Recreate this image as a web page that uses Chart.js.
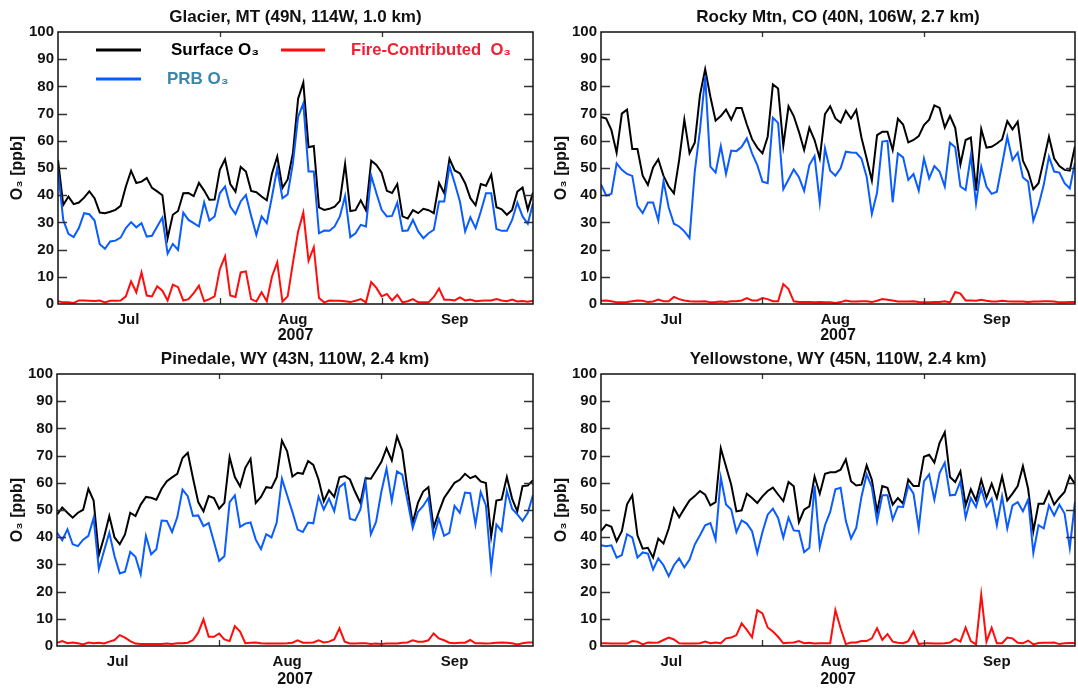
<!DOCTYPE html>
<html lang="en">
<head>
<meta charset="UTF-8">
<title>Surface, PRB and fire-contributed O3 - summer 2007</title>
<script src="https://cdn.jsdelivr.net/npm/chart.js"></script>
<style>
  body { margin: 0; background: #fff; }
  #wrap { position: relative; width: 1078px; height: 688px; }
  #wrap canvas { position: absolute; }
</style>
</head>
<body>
<div id="wrap">
  <canvas id="glacier" width="539" height="344" style="left:0;top:0"></canvas>
  <canvas id="rocky" width="539" height="344" style="left:539px;top:0"></canvas>
  <canvas id="pinedale" width="539" height="344" style="left:0;top:344px"></canvas>
  <canvas id="yellowstone" width="539" height="344" style="left:539px;top:344px"></canvas>
</div>

<script>
// daily values, 15 Jun - 14 Sep 2007 (day 0 = 15 Jun)
const dayIndex = Array.from({ length: 92 }, (_, i) => i);
const monthNames = ['Jul', 'Aug', 'Sep'];
const monthLabelDays = [13.5, 45, 76];
const pinedaleLabelDays = [11.6, 44, 76];
const midMonthDays = [31, 62];
const yearLabel = '2007';
const seriesNames = ['Surface O₃', 'PRB O₃', 'Fire-Contributed  O₃'];

// Glacier, MT
const glacierSurface = [53, 36.4, 39.5, 36.7, 37.3, 39.1, 41.4, 38.9, 33.6, 33.4,
  33.9, 34.6, 36.1, 43.2, 49, 44.5, 45, 46.3, 42.7, 41.4,
  40, 24.2, 32.8, 34.2, 40.7, 40.8, 39.7, 44.5, 41.7, 38.3,
  38.4, 49.3, 53.2, 44.1, 41.3, 50.4, 48.7, 41.6, 41.1, 39.5,
  38.1, 48, 54.2, 42.7, 45.8, 55.4, 75.5, 81.4, 57.6, 58.1,
  35.5, 34.6, 35, 35.8, 37.9, 51.5, 34.2, 34.5, 38.1, 34.4,
  52.7, 51.1, 48.3, 41.6, 40.8, 44.1, 32.2, 31.4, 34.5, 33.4,
  35, 34.5, 33.4, 44.5, 40.7, 53.4, 49.1, 48, 44.4, 38.9,
  36.3, 44.1, 43.5, 47.6, 35.6, 34.8, 32.8, 34.6, 41.3, 42.8,
  34.7, 41];
const glacierPRB = [49.3, 30.9, 25.8, 24.6, 27.9, 33.4, 33, 30.7, 22, 20.3,
  23, 23.3, 24.4, 27.9, 30.1, 28.2, 29.7, 24.8, 25.1, 28.5,
  31.8, 18.5, 22.1, 19.9, 33.6, 30.9, 29.7, 28.5, 37.4, 30.7,
  32.2, 40.7, 43.2, 35.8, 33.1, 37.7, 40.1, 32.4, 25.4, 32.2,
  29.7, 39.5, 49.9, 38.9, 40.3, 51.7, 68.8, 73.7, 48.7, 48.7,
  26, 27, 26.9, 28.5, 32.2, 39.7, 24.6, 26, 29.1, 28.5,
  47.2, 40.7, 34.6, 32.2, 32.4, 37.3, 26.9, 27, 30.9, 26.7,
  24.2, 26, 27.3, 37.7, 37.7, 50.7, 44.4, 37.7, 26.7, 31.9,
  27.9, 34, 40.7, 40.7, 27.6, 26.9, 26.9, 30.9, 37.3, 32.2,
  29.5, 37];
const glacierFire = [1, 0.6, 0.6, 0.4, 1.3, 1.3, 1.2, 1.1, 1.3, 0.6,
  1.2, 1.2, 1.3, 2.8, 8.3, 4.3, 11.6, 3.1, 2.8, 6.5,
  4.9, 1.3, 7.1, 6.2, 1.3, 1.8, 4, 6.7, 1, 1.8,
  2.8, 12.8, 17.5, 3.1, 2.6, 11.6, 12, 1.8, 0.9, 4.3,
  1, 10.1, 15.3, 0.9, 2.8, 15, 26.7, 33.6, 15.9, 20.9,
  2.2, 0.6, 1.3, 1.2, 1.2, 1, 0.7, 1.2, 1.8, 0.6,
  8.1, 5.9, 2.8, 3.7, 1.3, 3.4, 0.6, 1, 1.8, 0.6,
  0.6, 0.6, 2.6, 5.7, 1.6, 1.6, 1.3, 2.4, 1.3, 1.6,
  1, 1.2, 1.3, 1.3, 1.8, 1.3, 1, 1.6, 0.9, 1.1,
  0.8, 1.2];

// Rocky Mtn, CO
const rockySurface = [68.8, 68.2, 63.9, 55.6, 70, 71.5, 57, 57, 47.2, 43.8,
  50.2, 53.2, 47.1, 43.2, 40.7, 52.9, 67.8, 55.4, 59.3, 76.8,
  86.3, 76.2, 67.4, 69.1, 71.5, 67.8, 72.1, 72.1, 66, 60.6,
  57.5, 55.4, 61.5, 80.7, 79.2, 58.2, 72.7, 69.1, 63.3, 56.6,
  64.8, 60.3, 53.5, 69.8, 72.7, 68.2, 66.7, 71, 68.2, 71.3,
  61.2, 53.5, 45.4, 62.1, 63.3, 63.3, 56.6, 68.1, 66, 59.4,
  60.3, 61.7, 65.8, 67.8, 73, 72.1, 64.9, 69.1, 64.8, 51.3,
  60.3, 61.2, 41.7, 64.3, 57.5, 57.8, 59, 60.5, 67.2, 64.2,
  67, 52.7, 48.7, 42.2, 44.4, 52.9, 61.5, 53.5, 50.7, 49.3,
  49, 58];
const rockyPRB = [44, 39.9, 40.5, 51.7, 49.3, 47.8, 47.1, 36.1, 33.4, 37.3,
  37.3, 30.7, 45.2, 35.5, 29.5, 28.5, 26.7, 24.2, 48.7, 63.9,
  83.7, 50.5, 48.3, 58.1, 47.8, 56.4, 56.2, 57.8, 60.9, 55.4,
  51.1, 45, 44.4, 68.5, 66.6, 42.2, 45.8, 49.5, 46.6, 41.6,
  51.1, 54.4, 37.4, 57.2, 49, 47.2, 49.9, 56, 55.7, 55.6,
  53.5, 46.8, 33.1, 41, 59.7, 60, 37.4, 55.4, 53.9, 45.6,
  47.8, 41.7, 53.5, 46.2, 50.7, 48.7, 43.2, 59.3, 57.6, 43.2,
  41.9, 54.5, 37, 50.5, 43.2, 40.5, 41.3, 51.3, 61.5, 52.9,
  55.6, 46.5, 45, 30.6, 36.2, 43.8, 54.2, 48.7, 48.3, 44.4,
  42.5, 52];
const rockyFire = [1.2, 1.3, 1, 0.6, 0.6, 0.7, 1, 1.3, 1.2, 0.7,
  0.9, 1.6, 1, 1, 2.6, 1.8, 1.3, 1, 0.9, 0.9,
  1, 0.6, 0.7, 0.9, 0.7, 1, 1, 1.3, 2.2, 1.3,
  1.3, 2.2, 1.8, 1, 1, 7.3, 5.5, 1, 0.7, 0.7,
  0.7, 0.6, 0.7, 0.6, 0.6, 0.4, 0.7, 1.3, 0.9, 0.9,
  1, 1, 0.7, 1.2, 1.8, 1.6, 1.3, 0.9, 0.9, 0.9,
  1, 0.7, 0.6, 0.6, 0.7, 0.7, 1, 0.6, 4.4, 3.8,
  1.3, 1.3, 1.2, 1.6, 1.2, 0.9, 0.9, 1.2, 1, 0.9,
  0.9, 0.9, 0.7, 0.9, 0.9, 1, 1, 0.9, 0.6, 0.6,
  0.7, 0.7];

// Pinedale, WY
const pinedaleSurface = [48.3, 50.9, 49, 47.2, 49, 50.1, 57.8, 53.5, 33.4, 40.1,
  47.8, 39.9, 37.4, 41, 49, 47.8, 52, 54.8, 54.5, 53.8,
  57.8, 60.6, 62, 63.3, 69.1, 71, 61.7, 52.9, 49.5, 55.1,
  54.4, 50.5, 52.6, 69.4, 62.1, 58.7, 65.5, 68.8, 52.6, 54.8,
  58.4, 58.1, 62.1, 75.5, 71.6, 62.3, 63.7, 63.3, 68, 66.6,
  61.2, 53.2, 57.2, 54.8, 62, 62.5, 61.2, 56.6, 52.6, 61.7,
  61.5, 64.5, 67.6, 72.7, 68.2, 77, 71.9, 57.8, 45.2, 52.6,
  56.8, 58.4, 43.5, 49.3, 54.4, 57.2, 60, 61.1, 63.3, 61.7,
  62.5, 60.5, 59.9, 40.3, 53.5, 53.9, 62.1, 54.2, 49.5, 58.8,
  59, 61];
const pinedalePRB = [41.7, 38.9, 42.9, 37.4, 36.7, 39.1, 40.5, 47.1, 28.2, 35,
  41.6, 33, 26.7, 27.3, 34.6, 32.8, 26.4, 40.5, 33.7, 35.6,
  46.1, 46, 41.9, 47.4, 57.5, 55.1, 47.8, 48, 44.1, 45.2,
  38.3, 31.3, 33, 52.9, 55.4, 43.8, 45, 45.4, 39.1, 35.6,
  41.1, 39.9, 45.4, 61.5, 55.4, 49.3, 42.8, 41.9, 45.4, 45.1,
  54.9, 50.2, 54.2, 49.6, 58.4, 59.9, 46.8, 46.2, 50.2, 60.3,
  41.1, 45.6, 56.6, 65.2, 53.3, 64.2, 63, 53.5, 43.4, 49.3,
  51.5, 54.5, 40.1, 46.8, 40.5, 41.6, 51.5, 49, 56.4, 56.2,
  44.7, 56.6, 51.7, 28.5, 44.7, 42.3, 57, 50.5, 48.4, 46,
  49, 55.5];
const pinedaleFire = [1.2, 1.8, 1, 1.3, 1, 0.6, 1.3, 1, 1.2, 0.9,
  1.6, 2.2, 4, 3.1, 1.8, 0.9, 0.7, 0.7, 0.7, 0.7,
  0.7, 0.9, 0.7, 1, 1, 1.2, 2.2, 4.9, 9.8, 3.4,
  3.4, 4.6, 2.4, 1.8, 7.3, 5.3, 1, 1.2, 1.3, 1,
  0.9, 0.9, 0.9, 0.9, 1, 1.2, 2.1, 1.2, 1.2, 1.3,
  2.1, 1.3, 1.6, 2.4, 6.5, 1.6, 0.9, 0.9, 1, 1,
  0.7, 0.9, 0.7, 0.9, 0.9, 0.9, 1.2, 1.3, 2.1, 1.6,
  1.6, 2.1, 4.6, 2.8, 2.1, 1.2, 1, 1.2, 1.2, 2.2,
  1, 1, 0.9, 1, 1.2, 1.3, 1.2, 1, 0.6, 1,
  1.3, 1.3];

// Yellowstone, WY
const yellowSurface = [42.2, 44.6, 43.8, 38.5, 42.2, 52.1, 55.4, 40.7, 35.8, 36.1,
  32.5, 39.5, 37.7, 43.2, 50.7, 47.3, 50.5, 53.5, 55.1, 57,
  55.6, 51.7, 52.9, 72.7, 66, 59.3, 49.5, 49.9, 56, 54.4,
  52.6, 55, 57, 58.2, 55.7, 53.3, 60.3, 58.7, 45.5, 50.1,
  51.3, 62.3, 56, 63.3, 63.9, 63.9, 64.8, 68.6, 60.6, 59,
  59.3, 66.4, 61.1, 49.3, 58.8, 58.2, 52, 54.4, 52.3, 61.2,
  58.8, 58.8, 69.6, 70.3, 67.4, 74.7, 78.6, 62.1, 60.3, 64.2,
  51.7, 57.6, 53.5, 61.1, 54.5, 59.7, 54.4, 62.3, 53.5, 56,
  58.8, 66.1, 57.8, 42.2, 52.3, 52.3, 56.8, 52, 54.5, 56.6,
  62.5, 59.5];
const yellowPRB = [37, 36.7, 37, 32.5, 33.4, 41.1, 39.9, 32.5, 34.4, 34,
  28.1, 32.2, 29.7, 25.7, 29.7, 32.2, 28.9, 31.8, 37.3, 40.7,
  44.4, 45.2, 39.1, 61.9, 52, 50.2, 41.9, 46.2, 45, 42.2,
  34.2, 41.9, 48.3, 50.5, 47.1, 39.9, 47.2, 42.5, 42.3, 34.5,
  36.1, 59, 36.4, 44.4, 49.3, 57.6, 58.2, 46, 39.5, 43.4,
  54.8, 63.1, 58.4, 45.8, 55.4, 55.4, 46.5, 51.3, 51.1, 59,
  56, 43.2, 60.5, 63.1, 53.8, 63.6, 67.4, 55.4, 55.6, 60.5,
  47.2, 54.4, 51.1, 57.8, 51.3, 54.2, 44.4, 55, 43.2, 51.7,
  52.9, 49.5, 53.9, 34.2, 44.4, 43.2, 51.7, 48, 52, 48.7,
  36, 53];
const yellowFire = [1, 1, 0.9, 0.9, 0.9, 0.9, 1.8, 1.6, 0.6, 1.3,
  1.2, 1.3, 2.2, 3.1, 2.4, 1, 0.9, 0.9, 0.9, 1,
  1.6, 1, 1.3, 1, 2.8, 3.1, 4, 8.3, 5.9, 3.2,
  13.2, 12, 6.8, 5.3, 3.4, 1, 1.2, 1.3, 1.8, 1,
  1.2, 0.9, 1, 1, 1, 13.2, 6.5, 0.7, 1.3, 1.3,
  1.8, 1.8, 2.8, 6.5, 2.2, 4.4, 1.6, 1.2, 1, 1.8,
  5.3, 0.7, 1, 1, 0.9, 0.9, 1, 1.3, 2.6, 1.6,
  6.8, 1.8, 0.6, 18.9, 1.6, 6.7, 1, 1, 3.1, 2.8,
  1.2, 1, 2, 0.6, 1.1, 1.2, 1.2, 1.3, 0.7, 1,
  1.1, 1.1];

const FONT = "'Liberation Sans', Arial, Helvetica, sans-serif";
const lineColors = ['#000000', '#0a5cff', '#ff0d0d'];

// box round the plot, with inward ticks on all four sides
const frame = {
  id: 'frame',
  afterDatasetsDraw(chart) {
    const { ctx, chartArea: a, scales: { x, y } } = chart;
    ctx.save();
    ctx.strokeStyle = '#333';
    ctx.lineWidth = 1.3;
    ctx.beginPath();
    y.ticks.forEach(t => {
      if (t.value <= y.min || t.value >= y.max) return;
      const py = Math.round(y.getPixelForValue(t.value)) + 0.5;
      ctx.moveTo(a.left, py); ctx.lineTo(a.left + 9, py);
      ctx.moveTo(a.right, py); ctx.lineTo(a.right - 9, py);
    });
    midMonthDays.forEach(d => {
      const px = Math.round(x.getPixelForValue(d)) + 0.5;
      ctx.moveTo(px, a.top); ctx.lineTo(px, a.top + 5);
      ctx.moveTo(px, a.bottom); ctx.lineTo(px, a.bottom - 6);
    });
    ctx.stroke();
    ctx.strokeStyle = '#111';
    ctx.lineWidth = 1.5;
    ctx.strokeRect(a.left, a.top, a.right - a.left, a.bottom - a.top);
    ctx.restore();
  }
};

// site name centred over the plot box
const panelTitle = {
  id: 'panelTitle',
  afterDraw(chart, args, opts) {
    const { ctx, chartArea: a } = chart;
    ctx.save();
    ctx.font = 'bold 17px ' + FONT;
    ctx.fillStyle = '#111';
    ctx.textAlign = 'center';
    ctx.textBaseline = 'middle';
    ctx.fillText(opts.text, (a.left + a.right) / 2, a.top - 15);
    ctx.restore();
  }
};

// legend drawn inside the first panel
const inlineLegend = {
  id: 'inlineLegend',
  afterDraw(chart, args, opts) {
    if (!opts.display) return;
    const { ctx } = chart;
    ctx.save();
    ctx.font = 'bold 17px ' + FONT;
    ctx.textBaseline = 'middle';
    opts.items.forEach(it => {
      const ds = chart.data.datasets[it.ds];
      ctx.strokeStyle = ds.borderColor;
      ctx.lineWidth = 3;
      ctx.beginPath();
      ctx.moveTo(it.x0, it.y); ctx.lineTo(it.x1, it.y);
      ctx.stroke();
      ctx.fillStyle = it.color;
      ctx.fillText(ds.label, it.tx, it.y, it.maxW);
    });
    ctx.restore();
  }
};

const panels = [
  { id: 'glacier', title: 'Glacier, MT (49N, 114W, 1.0 km)', data: [glacierSurface, glacierPRB, glacierFire],
    box: { left: 58, right: 533, top: 32, bottom: 304 }, yTitleX: 18, legend: true, labelDays: monthLabelDays },
  { id: 'rocky', title: 'Rocky Mtn, CO (40N, 106W, 2.7 km)', data: [rockySurface, rockyPRB, rockyFire],
    box: { left: 62, right: 536, top: 32, bottom: 304 }, yTitleX: 23, legend: false, labelDays: monthLabelDays },
  { id: 'pinedale', title: 'Pinedale, WY (43N, 110W, 2.4 km)', data: [pinedaleSurface, pinedalePRB, pinedaleFire],
    box: { left: 57, right: 533, top: 30, bottom: 302 }, yTitleX: 18, legend: false, labelDays: pinedaleLabelDays },
  { id: 'yellowstone', title: 'Yellowstone, WY (45N, 110W, 2.4 km)', data: [yellowSurface, yellowPRB, yellowFire],
    box: { left: 62, right: 536, top: 30, bottom: 302 }, yTitleX: 23, legend: false, labelDays: monthLabelDays }
];

const tickFont = { family: FONT, size: 15, weight: 'bold' };

panels.forEach(p => {
  const canvas = document.getElementById(p.id);
  const W = canvas.width, H = canvas.height;
  new Chart(canvas, {
    type: 'line',
    data: {
      labels: dayIndex,
      datasets: p.data.map((vals, i) => ({
        label: seriesNames[i],
        data: vals,
        borderColor: lineColors[i],
        borderWidth: 2,
        pointRadius: 0,
        tension: 0,
        order: 3 - i
      }))
    },
    options: {
      responsive: false,
      animation: false,
      layout: { padding: { top: p.box.top, right: W - p.box.right, left: 0, bottom: 0 } },
      plugins: {
        legend: { display: false },
        tooltip: { enabled: false },
        panelTitle: { text: p.title },
        inlineLegend: {
          display: p.legend,
          items: [
            { ds: 0, x0: 96, x1: 141, y: 50, tx: 171, color: '#000000', maxW: 90 },
            { ds: 2, x0: 281, x1: 325, y: 50, tx: 351, color: '#ee2233', maxW: 160 },
            { ds: 1, x0: 96, x1: 141, y: 79, tx: 167, color: '#3a86ad', maxW: 70 }
          ]
        }
      },
      scales: {
        x: {
          type: 'linear',
          min: 0,
          max: dayIndex.length - 1,
          grid: { display: false, drawTicks: false },
          border: { display: false },
          afterBuildTicks: s => { s.ticks = p.labelDays.map(v => ({ value: v })); },
          afterFit: s => { s.height = H - p.box.bottom; },
          ticks: {
            autoSkip: false, maxRotation: 0, padding: 7, color: '#111', font: tickFont,
            callback: (v, i) => monthNames[i]
          },
          title: {
            display: true, text: yearLabel, color: '#111',
            font: { family: FONT, size: 16, weight: 'bold', lineHeight: 1 }, padding: 0
          }
        },
        y: {
          min: 0,
          max: 100,
          grid: { display: false, drawTicks: false },
          border: { display: false },
          afterFit: s => { s.width = p.box.left; },
          ticks: { stepSize: 10, padding: 4, color: '#111', font: tickFont },
          title: {
            display: true, text: 'O₃ [ppb]', color: '#111',
            font: { family: FONT, size: 16, weight: 'bold' },
            padding: { top: p.yTitleX - 9.6, bottom: 0 }
          }
        }
      }
    },
    plugins: [frame, panelTitle, inlineLegend]
  });
});
</script>
</body>
</html>
